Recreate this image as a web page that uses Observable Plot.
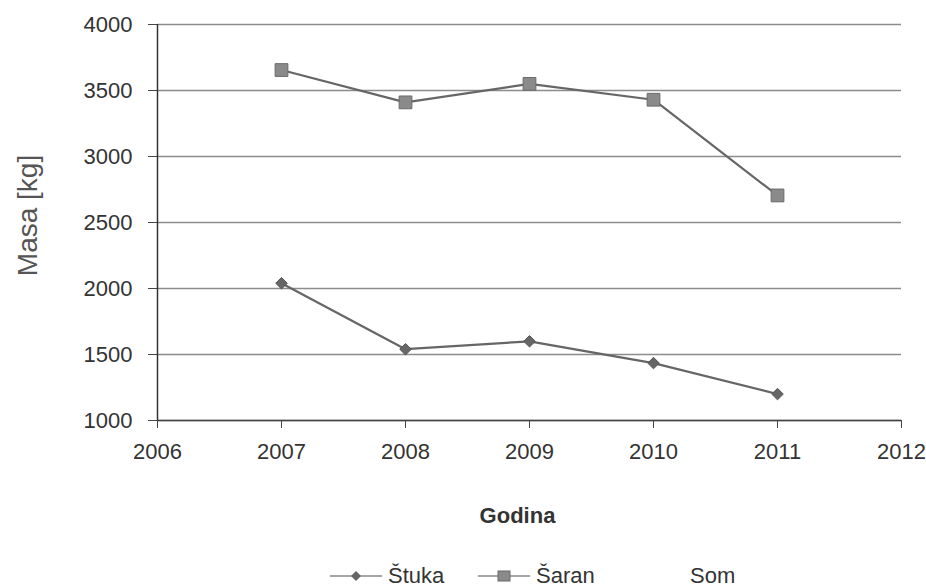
<!DOCTYPE html>
<html>
<head>
<meta charset="utf-8">
<script src="https://cdn.jsdelivr.net/npm/d3@7"></script>
<script src="https://cdn.jsdelivr.net/npm/@observablehq/plot@0.6"></script>
<style>
  body { margin: 0; background: #fff; font-family: "Liberation Sans", Arial, sans-serif; }
  #legend { position: relative; width: 926px; height: 25px; color: #333; font-size: 22px; }
  .item { position: absolute; top: 0; display: flex; align-items: center; height: 25px; }
  .item svg { margin-right: 6px; }
</style>
</head>
<body>
<div id="chart"></div>
<div id="legend"></div>
<script>
const years = [2007, 2008, 2009, 2010, 2011];
const stuka = [2040, 1540, 1600, 1435, 1200];
const saran = [3655, 3410, 3550, 3430, 2705];
const som = [];
const seriesNames = ["Štuka", "Šaran", "Som"];
const xTicks = [2006, 2007, 2008, 2009, 2010, 2011, 2012];
const yTicks = [1000, 1500, 2000, 2500, 3000, 3500, 4000];

const stukaRows = years.map((yr, i) => ({year: yr, value: stuka[i], series: seriesNames[0]}));
const saranRows = years.map((yr, i) => ({year: yr, value: saran[i], series: seriesNames[1]}));

const chart = Plot.plot({
  width: 926,
  height: 563,
  marginLeft: 157,
  marginRight: 25,
  marginTop: 24,
  marginBottom: 143,
  x: {domain: [2006, 2012]},
  y: {domain: [1000, 4000]},
  style: {fontFamily: "'Liberation Sans', Arial, sans-serif", fontSize: "22px", color: "#333", background: "#fff"},
  marks: [
    Plot.gridY(yTicks, {stroke: "#8c8c8c", strokeOpacity: 1, strokeWidth: 1.5}),
    Plot.axisY(yTicks, {tickSize: 9, tickPadding: 16, label: null, tickFormat: d => String(d), stroke: "#444", fill: "#333"}),
    Plot.axisX(xTicks, {tickSize: 8, tickPadding: 15, label: null, tickFormat: d => String(d), stroke: "#444", fill: "#333"}),
    Plot.ruleX([2006], {stroke: "#333", strokeWidth: 1.5}),
    Plot.ruleY([1000], {stroke: "#444", strokeWidth: 1.5}),
    Plot.line(stukaRows, {x: "year", y: "value", stroke: "#666", strokeWidth: 2.2}),
    Plot.dot(stukaRows, {x: "year", y: "value", symbol: "diamond2", r: 5.2, fill: "#666", stroke: "#555", strokeWidth: 1}),
    Plot.line(saranRows, {x: "year", y: "value", stroke: "#666", strokeWidth: 2.2}),
    Plot.dot(saranRows, {x: "year", y: "value", symbol: "square", r: 7.2, fill: "#8a8a8a", stroke: "#6a6a6a", strokeWidth: 1}),
    Plot.text(["Godina"], {frameAnchor: "bottom", lineAnchor: "middle", dx: -12, dy: 95, fontWeight: "bold", fontSize: 22, fill: "#333"}),
    Plot.text(["Masa [kg]"], {frameAnchor: "left", textAnchor: "middle", lineAnchor: "middle", dx: -129, dy: -7, rotate: -90, fontSize: 28, fill: "#555"})
  ]
});
document.getElementById("chart").appendChild(chart);

// Legend
const legend = document.getElementById("legend");
const lefts = [330, 478, 632];
const symbols = ["diamond", "square", null];
seriesNames.forEach((name, i) => {
  const item = document.createElement("div");
  item.className = "item";
  item.style.left = lefts[i] + "px";
  let sw = `<svg width="52" height="14" viewBox="0 0 52 14">`;
  if (symbols[i]) sw += `<line x1="0" y1="7" x2="52" y2="7" stroke="#888" stroke-width="1.6"/>`;
  if (symbols[i] === "diamond") sw += `<path d="M26,2 L31,7 L26,12 L21,7 Z" fill="#666"/>`;
  if (symbols[i] === "square") sw += `<rect x="20" y="2" width="12" height="10" fill="#8a8a8a" stroke="#6a6a6a"/>`;
  sw += `</svg>`;
  item.innerHTML = sw + `<span>${name}</span>`;
  legend.appendChild(item);
});
</script>
</body>
</html>
